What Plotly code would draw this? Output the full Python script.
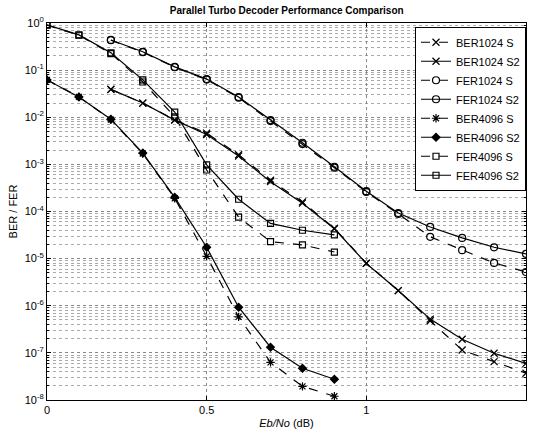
import plotly.graph_objects as go

# ---- data ----
x1024 = [0.2, 0.3, 0.4, 0.5, 0.6, 0.7, 0.8, 0.9, 1.0, 1.1, 1.2, 1.3, 1.4, 1.5]
x4096 = [0.0, 0.1, 0.2, 0.3, 0.4, 0.5, 0.6, 0.7, 0.8, 0.9]

ber1024_s = [0.039, 0.020, 0.0088, 0.0046, 0.0016, 4.6e-4, 1.6e-4, 4.4e-5, 8.0e-6, 2.1e-6, 4.8e-7, 1.15e-7, 6.5e-8, 3.7e-8]
ber1024_s2 = [0.039, 0.020, 0.0087, 0.0043, 0.0015, 4.3e-4, 1.5e-4, 4.3e-5, 7.9e-6, 2.1e-6, 5.2e-7, 1.95e-7, 9.8e-8, 6.0e-8]
fer1024_s = [0.43, 0.24, 0.115, 0.063, 0.026, 0.0083, 0.0027, 8.5e-4, 2.6e-4, 8.9e-5, 2.9e-5, 1.51e-5, 8.1e-6, 5.2e-6]
fer1024_s2 = [0.437, 0.245, 0.117, 0.0646, 0.0269, 0.0087, 0.00288, 8.9e-4, 2.7e-4, 9.3e-5, 4.7e-5, 2.75e-5, 1.74e-5, 1.26e-5]
ber4096_s = [0.062, 0.027, 0.0089, 0.0017, 1.9e-4, 1.12e-5, 5.8e-7, 6.3e-8, 1.95e-8, 1.2e-8]
ber4096_s2 = [0.062, 0.027, 0.0091, 0.00174, 2.0e-4, 1.74e-5, 9.3e-7, 1.32e-7, 4.7e-8, 2.75e-8]
fer4096_s = [0.90, 0.55, 0.225, 0.056, 0.0102, 7.6e-4, 7.6e-5, 2.3e-5, 1.95e-5, 1.38e-5]
fer4096_s2 = [0.91, 0.56, 0.234, 0.062, 0.0129, 9.8e-4, 1.82e-4, 5.6e-5, 4.0e-5, 3.2e-5]

ytick_vals = [10.0 ** (-k) for k in range(0, 9)]
ytick_text = ["10<sup>0</sup>"] + ["10<sup>-%d</sup>" % k for k in range(1, 9)]
xtick_vals = [0, 0.5, 1, 1.5]
xtick_text = ["0", "0.5", "1", "1.5"]
yminor_vals = [m * 10.0 ** (-e) for e in range(1, 9) for m in range(2, 10)]

series = [
    ("BER1024 S", x1024, ber1024_s, "dash", "x-thin-open", 7),
    ("BER1024 S2", x1024, ber1024_s2, "solid", "x-thin-open", 7),
    ("FER1024 S", x1024, fer1024_s, "dash", "circle-open", 7),
    ("FER1024 S2", x1024, fer1024_s2, "solid", "circle-open", 7),
    ("BER4096 S", x4096, ber4096_s, "dash", "asterisk-open", 7),
    ("BER4096 S2", x4096, ber4096_s2, "solid", "diamond", 6),
    ("FER4096 S", x4096, fer4096_s, "dash", "square-open", 6),
    ("FER4096 S2", x4096, fer4096_s2, "solid", "square-open", 6),
]

fig = go.Figure()
for name, xs, ys, dash, sym, sz in series:
    fig.add_trace(go.Scatter(
        x=xs, y=ys, name=name, mode="lines+markers",
        line=dict(color="black", width=1.2, dash=dash),
        marker=dict(symbol=sym, size=sz, color="black",
                    line=dict(color="black", width=1.2)),
    ))

font = "Liberation Sans, Arial, sans-serif"
fig.update_layout(
    width=533, height=429,
    margin=dict(l=47, r=7, t=23, b=29),
    paper_bgcolor="white", plot_bgcolor="white",
    font=dict(family=font, color="black", size=11),
    title=dict(text="<b>Parallel Turbo Decoder Performance Comparison</b>",
               x=0.538, xanchor="center", y=0.976, yanchor="middle",
               font=dict(size=10, family=font)),
    showlegend=True,
    legend=dict(x=1.0, xanchor="right", y=0.99, yanchor="top",
                bgcolor="white", bordercolor="black", borderwidth=1,
                font=dict(size=11, family=font), tracegroupgap=0),
    xaxis=dict(range=[0, 1.5], tickvals=xtick_vals, ticktext=xtick_text,
               showline=True, linecolor="black", linewidth=1, mirror="allticks",
               ticks="inside", ticklen=4, tickcolor="black",
               showgrid=True, gridcolor="#888", griddash="dot", gridwidth=1,
               zeroline=False, tickfont=dict(size=11),
               title=dict(text="<i>Eb/No</i> (dB)", font=dict(size=11), standoff=6),
               automargin=False),
    yaxis=dict(type="log", range=[-8, 0], tickvals=ytick_vals, ticktext=ytick_text,
               showline=True, linecolor="black", linewidth=1, mirror="allticks",
               ticks="inside", ticklen=4, tickcolor="black",
               showgrid=True, gridcolor="#888", griddash="dot", gridwidth=1,
               zeroline=False, tickfont=dict(size=11),
               minor=dict(tickvals=yminor_vals, showgrid=True, gridcolor="#aaa",
                          griddash="dot", gridwidth=1, ticks="inside", ticklen=2,
                          tickcolor="black"),
               title=dict(text="BER / FER", font=dict(size=11), standoff=4),
               automargin=False),
)

fig.write_html("out.html")
